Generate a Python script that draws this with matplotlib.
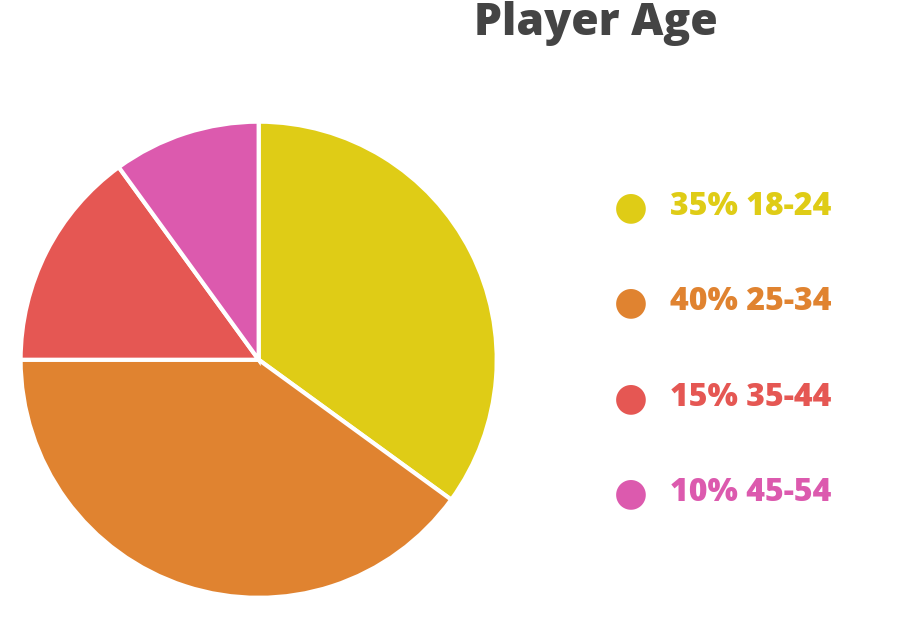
import matplotlib
matplotlib.use("Agg")
import matplotlib.pyplot as plt

labels = ["18-24", "25-34", "35-44", "45-54"]
values = [35, 40, 15, 10]
colors = ["#DFCC16", "#E08330", "#E55753", "#DC5AAE"]

fig = plt.figure(figsize=(9.14, 6.24), dpi=100)
ax = fig.add_axes([0.0225, 0.042, 0.521, 0.763])
ax.pie(values, colors=colors, startangle=90, counterclock=False, radius=1,
       wedgeprops=dict(edgecolor="white", linewidth=3))
ax.set_xlim(-1, 1)
ax.set_ylim(-1, 1)
ax.set_aspect("equal")

fig.text(0.652, 0.963, "Player Age", ha="center", va="center",
         fontsize=32, fontweight="heavy", color="#444444", family="Open Sans")

ys = [207, 302, 398, 493]
for v, l, c, y in zip(values, labels, colors, ys):
    yf = 1 - y / 624
    fig.text(631 / 914, yf, "\u25CF", ha="center", va="center", fontsize=28, color=c)
    fig.text(670 / 914, yf, f"{v}% {l}", ha="left", va="center",
             fontsize=23, fontweight="heavy", color=c, family="Open Sans")

fig.savefig("out.png", dpi=100)
